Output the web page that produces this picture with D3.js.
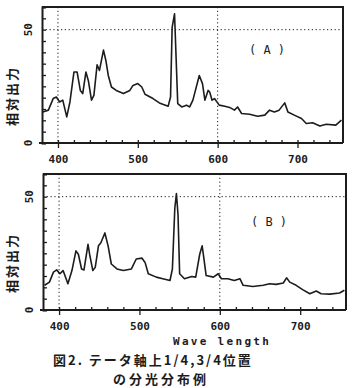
<!DOCTYPE html>
<html>
<head>
<meta charset="utf-8">
<script src="https://cdn.jsdelivr.net/npm/d3@7/dist/d3.min.js"></script>
<style>
  body { margin: 0; background: #fff; }
  svg text { fill: #1c1c1c; }
</style>
</head>
<body>
<div id="chart"></div>
<script>
// Spectrum (A): wavelength (nm) and relative output
const waveA = [381, 388, 394, 398, 402, 406, 411, 415, 420, 424, 428, 431, 435, 438, 442, 445, 449, 452, 454, 457, 460, 463, 467, 473, 482, 490, 494, 500, 505, 509, 519, 527, 538, 541, 543, 546, 550, 555, 561, 565, 569, 577, 581, 584, 588, 590, 593, 596, 602, 609, 615, 621, 625, 630, 640, 650, 659, 665, 671, 677, 684, 688, 696, 705, 711, 719, 728, 736, 748, 755];
const outA = [13.7, 14.5, 19.6, 20.3, 18.1, 18.9, 11.5, 18.1, 31.3, 31.3, 23.2, 21.8, 31.3, 27.6, 18.9, 21, 34.5, 32, 35.7, 41, 36.4, 29.8, 24.7, 23.2, 21.8, 23.2, 25.4, 26.2, 24.7, 21.5, 19.6, 17.7, 16.2, 20.3, 51, 57, 17.4, 15.9, 16.7, 15.9, 18.9, 29.8, 26.2, 18.9, 23.2, 22.5, 18.9, 19.6, 16.7, 16.2, 15.7, 14.5, 15.9, 13, 12.7, 11.8, 12.3, 14.5, 13.7, 14.5, 17.7, 13.7, 12.3, 10.8, 8.6, 8.9, 7.5, 8.3, 7.9, 10.1];

// Spectrum (B)
const waveB = [382, 388, 393, 397, 401, 405, 411, 416, 421, 424, 428, 431, 436, 438, 442, 445, 449, 452, 457, 461, 465, 472, 480, 490, 496, 503, 507, 511, 521, 529, 538, 541, 544, 546, 548, 550, 556, 565, 570, 575, 578, 580, 583, 592, 598, 602, 610, 618, 625, 629, 641, 654, 662, 670, 679, 683, 687, 695, 703, 712, 720, 726, 737, 749, 755];
const outB = [10.9, 12.3, 16.7, 17.7, 16, 17.4, 11.6, 17.4, 26.1, 24.6, 18.1, 17.7, 29, 24.6, 17.4, 18.8, 28.3, 29.7, 34, 28.3, 20.3, 18.1, 17.4, 18.1, 22.5, 22.9, 21, 16, 14.5, 13.8, 13, 18.1, 44.9, 51.4, 42, 16, 13.8, 14.8, 14.5, 24.6, 28.3, 23.2, 15.2, 14.5, 16, 13.8, 13.8, 13, 13.8, 10.9, 10.4, 10.9, 11.6, 11.3, 11.9, 14.2, 12.3, 10.9, 9, 7.2, 8.4, 7.2, 7, 7.5, 8.7];

const xMajor = [400, 500, 600, 700];
const xMinor = d3.range(400, 760, 20);
const yTicks = d3.range(0, 61, 5);
const yLabels = [0, 50];
const guideX = [400, 600];
const guideY = 50;

const ink = "#1c1c1c";

const svg = d3.select("#chart")
  .append("svg")
  .attr("width", 355)
  .attr("height", 388);

// Panel positions
const panels = [
  { wave: waveA, out: outA, name: "( A )", left: 42, right: 343, top: 7, bottom: 143, labelX: 267, labelY: 54 },
  { wave: waveB, out: outB, name: "( B )", left: 43, right: 346, top: 174, bottom: 310, labelX: 269, labelY: 226 }
];

panels.forEach(p => {
  const x = d3.scaleLinear().domain([380, 757]).range([p.left, p.right]);
  const y = d3.scaleLinear().domain([0, 60]).range([p.bottom, p.top]);
  const g = svg.append("g");

  // dotted guides
  guideX.forEach(v => {
    g.append("line")
      .attr("x1", x(v)).attr("x2", x(v))
      .attr("y1", p.top).attr("y2", p.bottom)
      .attr("stroke", ink).attr("stroke-width", 1)
      .attr("stroke-dasharray", "1.2,2.6");
  });
  g.append("line")
    .attr("x1", p.left).attr("x2", p.right)
    .attr("y1", y(guideY)).attr("y2", y(guideY))
    .attr("stroke", ink).attr("stroke-width", 1)
    .attr("stroke-dasharray", "1.2,2.6");

  // frame top and right
  g.append("path")
    .attr("d", `M${p.left},${p.top}H${p.right}V${p.bottom}`)
    .attr("fill", "none").attr("stroke", ink).attr("stroke-width", 2);

  // left axis with inward ticks
  const yAxis = g.append("g")
    .attr("transform", `translate(${p.left},0)`)
    .call(d3.axisRight(y).tickValues(yTicks).tickSize(4).tickFormat(""));
  yAxis.select(".domain").attr("stroke", ink).attr("stroke-width", 2);
  yAxis.selectAll(".tick line").attr("stroke", ink).attr("stroke-width", 1.3);

  yLabels.forEach(v => {
    g.append("text")
      .attr("transform", `translate(${p.left - 10},${y(v)}) rotate(-90)`)
      .attr("text-anchor", "middle")
      .attr("font-family", "DejaVu Sans Mono")
      .attr("font-weight", "bold")
      .attr("font-size", 11)
      .text(v);
  });

  g.append("text")
    .attr("transform", `translate(17,${(p.top + p.bottom) / 2 + 21}) rotate(-90)`)
    .attr("text-anchor", "middle")
    .attr("font-family", "Noto Sans CJK JP")
    .attr("font-weight", "bold")
    .attr("font-size", 13)
    .attr("letter-spacing", 2)
    .text("相対出力");

  // bottom axis: minor ticks inward, majors crossing
  const xMinorAxis = g.append("g")
    .attr("transform", `translate(0,${p.bottom})`)
    .call(d3.axisTop(x).tickValues(xMinor).tickSize(3).tickFormat(""));
  xMinorAxis.select(".domain").remove();
  xMinorAxis.selectAll(".tick line").attr("stroke", ink).attr("stroke-width", 1.3);

  const xAxis = g.append("g")
    .attr("transform", `translate(0,${p.bottom})`)
    .call(d3.axisBottom(x).tickValues(xMajor).tickSize(5).tickPadding(7));
  xAxis.select(".domain").attr("stroke", ink).attr("stroke-width", 2)
    .attr("d", `M${p.left - 3},0H${p.right}`);
  xAxis.selectAll(".tick line").attr("stroke", ink).attr("stroke-width", 1.3);
  xAxis.selectAll(".tick text")
    .attr("font-family", "DejaVu Sans Mono")
    .attr("font-weight", "bold")
    .attr("font-size", 11)
    .attr("fill", ink);

  // spectrum
  const line = d3.line()
    .x((d, i) => x(p.wave[i]))
    .y(d => y(d));
  g.append("path")
    .datum(p.out)
    .attr("d", line)
    .attr("fill", "none")
    .attr("stroke", ink)
    .attr("stroke-width", 1.6)
    .attr("stroke-linejoin", "round");

  g.append("text")
    .attr("x", p.labelX).attr("y", p.labelY)
    .attr("text-anchor", "middle")
    .attr("font-family", "DejaVu Sans Mono")
    .attr("font-size", 12)
    .text(p.name);
});

svg.append("text")
  .attr("x", 173).attr("y", 345)
  .attr("font-family", "DejaVu Sans Mono")
  .attr("font-weight", "bold")
  .attr("font-size", 11)
  .attr("letter-spacing", 2.3)
  .text("Wave length");

svg.append("text")
  .attr("x", 53).attr("y", 365)
  .attr("font-family", "Noto Sans CJK JP")
  .attr("font-weight", "bold")
  .attr("font-size", 13)
  .attr("letter-spacing", 2)
  .text("図2.  テータ軸上1/4,3/4位置");

svg.append("text")
  .attr("x", 113).attr("y", 384)
  .attr("font-family", "Noto Sans CJK JP")
  .attr("font-weight", "bold")
  .attr("font-size", 13)
  .attr("letter-spacing", 3)
  .text("の分光分布例");
</script>
</body>
</html>
